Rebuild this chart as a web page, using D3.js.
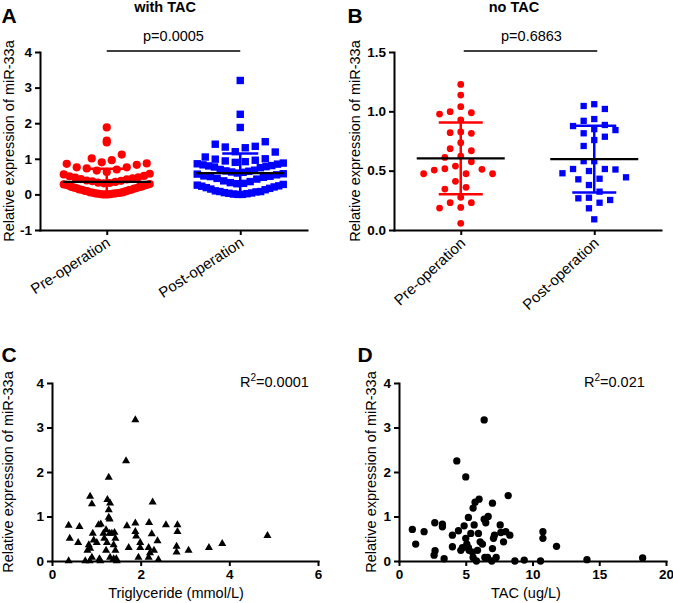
<!DOCTYPE html>
<html><head><meta charset="utf-8">
<script src="https://cdn.jsdelivr.net/npm/d3@7"></script>
<style>body{margin:0;background:#fff}</style>
</head><body><svg id="c" width="673" height="603"></svg>
<script>
// ---------------- DATA ----------------
const groups = ["Pre-operation", "Post-operation"];

// Panel A (with TAC)
const aPre = [1.88, 1.51, 1.46, 1.12, 1.01, 0.96, 0.90, 0.87, 0.86, 0.83, 0.76, 0.76, 0.73, 0.70,
  0.67, 0.63, 0.58, 0.56, 0.52, 0.51, 0.48, 0.47, 0.45, 0.43, 0.42, 0.39, 0.38, 0.37, 0.35,
  0.33, 0.32, 0.31, 0.29, 0.28, 0.27, 0.27, 0.25, 0.24, 0.22, 0.21, 0.21, 0.19, 0.18, 0.17,
  0.16, 0.14, 0.13, 0.13, 0.12, 0.10, 0.09, 0.09, 0.07, 0.06, 0.05, 0.05, 0.04, 0.03, 0.03,
  0.02, 0.02, 0.01, 0.01, 0.00, 0.00, 0.00];
const aPost = [3.20, 2.25, 1.88, 1.48, 1.41, 1.35, 1.33, 1.31, 1.20, 1.19, 1.05, 1.00, 0.99,
  0.96, 0.94, 0.92, 0.90, 0.88, 0.86, 0.85, 0.83, 0.81, 0.80, 0.78, 0.77, 0.75,
  0.70, 0.68, 0.66, 0.65, 0.63, 0.62, 0.60, 0.58, 0.57, 0.55, 0.52, 0.51, 0.50, 0.48, 0.45, 0.43,
  0.38, 0.36, 0.33, 0.31, 0.30, 0.28, 0.26, 0.24, 0.23, 0.21, 0.19, 0.17, 0.15, 0.13, 0.10,
  0.08, 0.08, 0.07, 0.05, 0.04, 0.03, 0.02, 0.01, 0.00, 0.00];
const aMean = [0.35, 0.60];
const aSD = [0.37, 0.55];
const aTicks = [-1, 0, 1, 2, 3, 4];
const aP = "p=0.0005";

// Panel B (no TAC)
const bPre = [1.227, 1.137, 1.039, 0.997, 0.988, 0.977, 0.927, 0.826, 0.820, 0.815, 0.736, 0.685,
  0.668, 0.623, 0.612, 0.575, 0.539, 0.516, 0.511, 0.505, 0.474, 0.474, 0.474, 0.410, 0.360,
  0.345, 0.275, 0.230, 0.230, 0.190, 0.185, 0.056];
const bPost = [1.060, 1.045, 1.020, 0.935, 0.920, 0.885, 0.876, 0.850, 0.842, 0.815, 0.786, 0.758,
  0.708, 0.580, 0.580, 0.514, 0.514, 0.510, 0.497, 0.478, 0.444, 0.432, 0.427, 0.379, 0.323,
  0.272, 0.267, 0.253, 0.230, 0.183, 0.090];
const bMean = [0.604, 0.598];
const bSD = [0.302, 0.281];
const bTicks = [0, 0.5, 1.0, 1.5];
const bP = "p=0.6863";

// Panel C: triglyceride vs miR-33a
const tgX = [1.28, 0.86, 0.90, 1.25, 1.31, 1.28, 1.28, 1.30, 2.27, 0.375, 0.40, 0.62, 0.59, 0.375,
  0.83, 0.80, 0.86, 0.75, 0.85, 0.90, 0.94, 0.92, 1.01, 1.05, 1.10, 1.09, 1.07, 1.16, 1.22, 1.18,
  1.24, 1.22, 1.30, 1.35, 1.41, 1.43, 1.39, 1.43, 1.31, 1.39, 1.45, 1.46, 1.69, 1.73, 1.88, 1.88,
  1.90, 1.99, 1.99, 1.95, 2.19, 2.18, 2.21, 2.18, 2.25, 2.30, 2.38, 2.40, 2.57, 2.83, 2.83, 2.81,
  2.81, 3.08, 3.54, 3.84, 4.86, 1.88, 1.67];
const tgY = [1.88, 1.45, 1.28, 1.38, 1.30, 1.15, 0.98, 0.94, 1.32, 0.80, 0.51, 0.77, 0.41, 0.00,
  0.36, 0.24, 0.28, 0.00, 0.00, 0.08, 0.47, 0.62, 0.41, 0.81, 0.83, 0.00, 0.05, 0.62, 0.70, 0.51,
  0.41, 0.24, 0.62, 0.62, 0.64, 0.51, 0.36, 0.24, 0.08, 0.05, 0.05, 0.00, 0.79, 0.30, 0.85, 0.66,
  0.56, 0.41, 0.30, 0.08, 0.86, 0.30, 0.18, 0.08, 0.61, 0.24, 0.45, 0.03, 0.81, 0.81, 0.66, 0.33,
  0.20, 0.24, 0.30, 0.39, 0.57, 3.17, 2.25];
const cXTicks = [0, 2, 4, 6];
const cR2 = "0.0001";

// Panel D: TAC vs miR-33a
const tacX = [5.0, 8.18, 6.0, 5.7, 7.0, 5.55, 5.2, 6.68, 6.38, 6.5, 1.0, 1.25, 1.88, 2.68, 3.25, 3.25,
  2.7, 2.63, 3.38, 4.0, 4.0, 4.45, 4.88, 5.63, 4.75, 4.63, 5.0, 5.08, 5.2, 5.25, 5.38, 5.5, 5.55,
  5.8, 5.88, 5.95, 6.08, 6.25, 6.43, 6.63, 6.95, 7.0, 7.08, 7.15, 7.28, 7.58, 7.63, 7.83, 8.0, 8.3,
  8.68, 9.38, 10.6, 10.78, 10.78, 11.8, 14.08, 18.25, 6.38, 4.33];
const tacY = [1.89, 1.47, 1.39, 1.32, 1.30, 1.19, 0.98, 1.00, 0.94, 0.86, 0.71, 0.38, 0.66, 0.86, 0.83, 0.77,
  0.23, 0.13, 0.05, 0.58, 0.32, 0.68, 0.79, 0.81, 0.30, 0.24, 0.51, 0.38, 0.30, 0.24, 0.62, 0.20, 0.08,
  0.00, 0.24, 0.62, 0.43, 0.38, 0.08, 0.08, 0.00, 0.28, 0.51, 0.58, 0.08, 0.81, 0.64, 0.43, 0.66, 0.58,
  0.00, 0.02, 0.00, 0.66, 0.51, 0.33, 0.03, 0.07, 3.17, 2.25];
const dXTicks = [0, 5, 10, 15, 20];
const dR2 = "0.021";
const cdYTicks = [0, 1, 2, 3, 4];

// ---------------- DRAW ----------------
const FONT = "'Liberation Sans', Arial, Helvetica, sans-serif";
const RED = "#ff0000", BLUE = "#0000ff";
const svg = d3.select("#c").attr("font-family", FONT);
const YTITLE = "Relative expression of miR-33a";

function styleAxis(g) {
  g.selectAll(".domain").attr("stroke", "#000").attr("stroke-width", 2).attr("stroke-linecap", "square");
  g.selectAll(".tick line").attr("stroke", "#000").attr("stroke-width", 2);
  g.selectAll(".tick text").attr("font-family", FONT).attr("font-size", 13.5)
    .attr("font-weight", "bold").attr("fill", "#000");
}
function text(x, y, s, size, weight, anchor) {
  return svg.append("text").attr("x", x).attr("y", y).attr("font-size", size)
    .attr("font-weight", weight || "normal").attr("text-anchor", anchor || "start").attr("fill", "#000").text(s);
}
function yTitle(cx, cy) {
  svg.append("text").attr("transform", `translate(${cx},${cy}) rotate(-90)`)
    .attr("text-anchor", "middle").attr("font-size", 14.5).attr("fill", "#000").text(YTITLE);
}

// bin layout (GraphPad-like chevrons)
function binLayout(vals, binH, spacing, maxHalf) {
  const bins = d3.group(vals, v => Math.floor(v / binH + 1e-9));
  const out = [];
  for (const [, arr] of bins) {
    const s = arr.slice().sort((a, b) => a - b);
    const n = s.length;
    const sp = n > 1 ? Math.min(spacing, 2 * maxHalf / (n - 1)) : 0;
    const slots = d3.range(n).map(j => j - (n - 1) / 2).sort((a, b) => Math.abs(a) - Math.abs(b) || a - b);
    s.forEach((v, j) => out.push({ v, dx: slots[j] * sp }));
  }
  return out;
}
// collision swarm
function swarm(vals, y, step, minD) {
  const sorted = vals.slice().sort((a, b) => b - a);
  const placed = [];
  const cands = [0];
  for (let i = 1; i < 40; i++) cands.push(-i * step, i * step);
  for (const v of sorted) {
    const py = y(v);
    let dx = 0;
    for (const c of cands) {
      if (placed.every(p => (p.dx - c) ** 2 + (p.py - py) ** 2 >= minD * minD)) { dx = c; break; }
    }
    placed.push({ v, py, dx });
  }
  return placed;
}

function dotPanel(cfg) {
  const y = d3.scaleLinear().domain(cfg.yDomain).range([cfg.yBottom, cfg.yTop]);
  const x = d3.scalePoint().domain(groups).range([cfg.xLeft, cfg.xRight]).padding(0.5);
  const gy = svg.append("g").attr("transform", `translate(${cfg.xLeft},0)`)
    .call(d3.axisLeft(y).tickValues(cfg.ticks).tickFormat(cfg.fmt).tickSize(5).tickSizeOuter(0).tickPadding(3));
  styleAxis(gy);
  const gx = svg.append("g").attr("transform", `translate(0,${cfg.yBottom})`)
    .call(d3.axisBottom(x).tickSize(5).tickSizeOuter(0));
  styleAxis(gx);
  gx.selectAll(".tick text").attr("font-weight", "normal").attr("font-size", 15)
    .attr("text-anchor", "end").attr("x", cfg.lx).attr("y", cfg.ly).attr("dy", 0)
    .attr("transform", `rotate(${-cfg.angle})`);

  const data = [cfg.pre, cfg.post];
  data.forEach((vals, gi) => {
    const cx = x(groups[gi]);
    const col = gi === 0 ? RED : BLUE;
    const pts = cfg.layout(vals, y);
    const g = svg.append("g");
    if (gi === 0) {
      g.selectAll("circle").data(pts).join("circle")
        .attr("cx", d => cx + d.dx).attr("cy", d => y(d.v)).attr("r", cfg.r).attr("fill", col);
    } else {
      g.selectAll("rect").data(pts).join("rect")
        .attr("x", d => cx + d.dx - cfg.sq / 2).attr("y", d => y(d.v) - cfg.sq / 2)
        .attr("width", cfg.sq).attr("height", cfg.sq).attr("fill", col);
    }
    // SD bar
    const m = cfg.mean[gi], sd = cfg.sd[gi];
    const eb = svg.append("g").attr("stroke", col).attr("stroke-width", 2.5);
    eb.append("line").attr("x1", cx).attr("x2", cx).attr("y1", y(m - sd)).attr("y2", y(m + sd));
    [m - sd, m + sd].forEach(v => eb.append("line").attr("x1", cx - cfg.cap).attr("x2", cx + cfg.cap)
      .attr("y1", y(v)).attr("y2", y(v)));
    svg.append("line").attr("x1", cx - 44).attr("x2", cx + 44).attr("y1", y(m)).attr("y2", y(m))
      .attr("stroke", "#000").attr("stroke-width", 2.2);
  });
  // significance
  svg.append("line").attr("x1", x(groups[0]) + cfg.pOff).attr("x2", x(groups[1]) + cfg.pOff)
    .attr("y1", 51).attr("y2", 51).attr("stroke", "#000").attr("stroke-width", 1.3);
  text(cfg.pX, 40.5, cfg.p, 14.5, "normal", "middle");
  text(cfg.titleX, 12, cfg.title, 14.5, "bold", "middle");
  text(cfg.letterX, 23.3, cfg.letter, 21, "bold", "start");
  yTitle(cfg.yTitleX, (cfg.yTop + cfg.yBottom) / 2);
}

dotPanel({
  pre: aPre, post: aPost, mean: aMean, sd: aSD, ticks: aTicks, fmt: d => String(d),
  yDomain: [-1, 4], yTop: 52, yBottom: 230, xLeft: 40, xRight: 307,
  layout: (vals, y) => binLayout(vals, 0.3, 10, 43), r: 4.1, sq: 7.4, cap: 18,
  angle: 33, lx: -5, ly: 15,
  p: aP, pX: 173.5, pOff: 0, title: "with TAC", titleX: 165, letter: "A", letterX: 1.5, yTitleX: 14
});
dotPanel({
  pre: bPre, post: bPost, mean: bMean, sd: bSD, ticks: bTicks, fmt: d3.format(".1f"),
  yDomain: [0, 1.5], yTop: 52, yBottom: 230, xLeft: 394, xRight: 661,
  layout: (vals, y) => swarm(vals, y, 5.3, 10), r: 3.4, sq: 6.3, cap: 22,
  angle: 43, lx: -6, ly: 14,
  p: bP, pX: 531.5, pOff: 3, title: "no TAC", titleX: 514, letter: "B", letterX: 347.5, yTitleX: 360
});

function scatterPanel(cfg) {
  const x = d3.scaleLinear().domain(cfg.xDomain).range([cfg.xLeft, cfg.xRight]);
  const y = d3.scaleLinear().domain([0, 4]).range([561, 383]);
  const gy = svg.append("g").attr("transform", `translate(${cfg.xLeft},0)`)
    .call(d3.axisLeft(y).tickValues(cdYTicks).tickFormat(d => String(d)).tickSize(5).tickSizeOuter(0).tickPadding(3));
  styleAxis(gy);
  const gx = svg.append("g").attr("transform", `translate(0,561)`)
    .call(d3.axisBottom(x).tickValues(cfg.xTicks).tickFormat(d => String(d)).tickSize(5).tickSizeOuter(0).tickPadding(3));
  styleAxis(gx);
  const pts = cfg.xs.map((v, i) => [v, cfg.ys[i]]);
  const sym = d3.symbol().type(cfg.symbol).size(cfg.size);
  svg.append("g").selectAll("path").data(pts).join("path")
    .attr("transform", d => `translate(${x(d[0])},${y(d[1])})`).attr("d", sym).attr("fill", "#000");
  text(cfg.xTitleX, 598, cfg.xTitle, 14.5, "normal", "middle");
  const r = text(cfg.r2X, 387, "R", 14.5, "normal", "start");
  r.append("tspan").attr("dy", -6).attr("font-size", 10).text("2");
  r.append("tspan").attr("dy", 6).text("=" + cfg.r2);
  text(cfg.letterX, 361.5, cfg.letter, 21, "bold", "start");
  yTitle(cfg.yTitleX, 472);
}
scatterPanel({
  xs: tgX, ys: tgY, xDomain: [0, 6], xLeft: 52, xRight: 318, xTicks: cXTicks,
  symbol: d3.symbolTriangle, size: 28, xTitle: "Triglyceride (mmol/L)", xTitleX: 176,
  r2: cR2, r2X: 240, letter: "C", letterX: 1.5, yTitleX: 13
});
scatterPanel({
  xs: tacX, ys: tacY, xDomain: [0, 20], xLeft: 399, xRight: 666, xTicks: dXTicks,
  symbol: d3.symbolCircle, size: 42, xTitle: "TAC (ug/L)", xTitleX: 526,
  r2: dR2, r2X: 584, letter: "D", letterX: 357.5, yTitleX: 376
});
</script></body></html>
